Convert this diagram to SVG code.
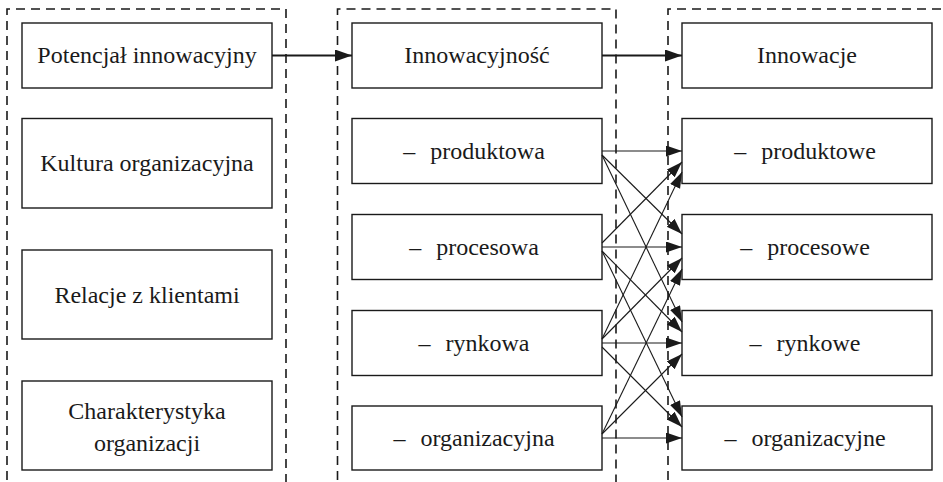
<svg xmlns="http://www.w3.org/2000/svg" width="943" height="482" viewBox="0 0 943 482">
<style>
  .frame{fill:none;stroke:#1a1a1a;stroke-width:1.6;stroke-dasharray:9 6}
  .box{fill:#fff;stroke:#1a1a1a;stroke-width:1.4}
  .lbl{font-family:"Liberation Serif","Times New Roman",serif;font-size:24px;fill:#1a1a1a;text-anchor:middle}
  .main{fill:none;stroke:#1a1a1a;stroke-width:1.8}
  .thin{fill:none;stroke:#1a1a1a;stroke-width:1.1}
</style>
<defs>
  <marker id="ah" markerUnits="userSpaceOnUse" markerWidth="18" markerHeight="14" refX="17" refY="6" orient="auto">
    <path d="M0,0 L17,6 L0,12 z" fill="#1a1a1a"/>
  </marker>
  <marker id="as" markerUnits="userSpaceOnUse" markerWidth="17" markerHeight="13" refX="16" refY="5.5" orient="auto">
    <path d="M0,0 L16,5.5 L0,11 z" fill="#1a1a1a"/>
  </marker>
</defs>
<rect width="943" height="482" fill="#fff"/>
<g id="frames">
  <path class="frame" d="M7,495 V9 H286 V495"/>
  <path class="frame" d="M337.5,495 V9 H616 V495"/>
  <path class="frame" d="M668,495 V9 H950"/>
</g>
<g id="left-1"><rect class="box" x="22" y="23" width="250" height="65"/><text class="lbl" x="147" y="63">Potencjał innowacyjny</text></g>
<g id="left-2"><rect class="box" x="22" y="118.5" width="250" height="89.5"/><text class="lbl" x="147" y="171">Kultura organizacyjna</text></g>
<g id="left-3"><rect class="box" x="22" y="250" width="250" height="89"/><text class="lbl" x="147" y="303">Relacje z klientami</text></g>
<g id="left-4"><rect class="box" x="22" y="381" width="250" height="89"/><text class="lbl" x="147" y="419">Charakterystyka</text><text class="lbl" x="147" y="451">organizacji</text></g>

<g id="mid-0"><rect class="box" x="352" y="23" width="250" height="65"/><text class="lbl" x="477" y="63">Innowacyjność</text></g>
<g id="mid-1"><rect class="box" x="352" y="118.5" width="250" height="65"/><text class="lbl" x="474" y="159">–<tspan dx="15">produktowa</tspan></text></g>
<g id="mid-2"><rect class="box" x="352" y="214.5" width="250" height="65"/><text class="lbl" x="474" y="255">–<tspan dx="15">procesowa</tspan></text></g>
<g id="mid-3"><rect class="box" x="352" y="310.5" width="250" height="65"/><text class="lbl" x="474" y="351">–<tspan dx="15">rynkowa</tspan></text></g>
<g id="mid-4"><rect class="box" x="352" y="406" width="250" height="64"/><text class="lbl" x="474" y="446">–<tspan dx="15">organizacyjna</tspan></text></g>

<g id="right-0"><rect class="box" x="682" y="23" width="250" height="65"/><text class="lbl" x="807" y="63">Innowacje</text></g>
<g id="right-1"><rect class="box" x="682" y="118.5" width="250" height="65"/><text class="lbl" x="805" y="159">–<tspan dx="15">produktowe</tspan></text></g>
<g id="right-2"><rect class="box" x="682" y="214.5" width="250" height="65"/><text class="lbl" x="805" y="255">–<tspan dx="15">procesowe</tspan></text></g>
<g id="right-3"><rect class="box" x="682" y="310.5" width="250" height="65"/><text class="lbl" x="805" y="351">–<tspan dx="15">rynkowe</tspan></text></g>
<g id="right-4"><rect class="box" x="682" y="406" width="250" height="64"/><text class="lbl" x="805" y="446">–<tspan dx="15">organizacyjne</tspan></text></g>

<g id="connectors">
  <line class="main" x1="272" y1="55.5" x2="352" y2="55.5" marker-end="url(#ah)"/>
  <line class="main" x1="602" y1="55.5" x2="682" y2="55.5" marker-end="url(#ah)"/>

  <line class="thin" x1="602" y1="151" x2="682" y2="151" marker-end="url(#as)"/>
  <line class="thin" x1="602" y1="155" x2="682" y2="234" marker-end="url(#as)"/>
  <line class="thin" x1="602" y1="155" x2="682" y2="322" marker-end="url(#as)"/>

  <line class="thin" x1="602" y1="243" x2="682" y2="162" marker-end="url(#as)"/>
  <line class="thin" x1="602" y1="247" x2="682" y2="247" marker-end="url(#as)"/>
  <line class="thin" x1="602" y1="251" x2="682" y2="332" marker-end="url(#as)"/>
  <line class="thin" x1="602" y1="251" x2="682" y2="417" marker-end="url(#as)"/>

  <line class="thin" x1="602" y1="339" x2="682" y2="172" marker-end="url(#as)"/>
  <line class="thin" x1="602" y1="339" x2="682" y2="258" marker-end="url(#as)"/>
  <line class="thin" x1="602" y1="343" x2="682" y2="343" marker-end="url(#as)"/>
  <line class="thin" x1="602" y1="347" x2="682" y2="427" marker-end="url(#as)"/>

  <line class="thin" x1="602" y1="434" x2="682" y2="269" marker-end="url(#as)"/>
  <line class="thin" x1="602" y1="434" x2="682" y2="354" marker-end="url(#as)"/>
  <line class="thin" x1="602" y1="438" x2="682" y2="438" marker-end="url(#as)"/>
</g>
</svg>
